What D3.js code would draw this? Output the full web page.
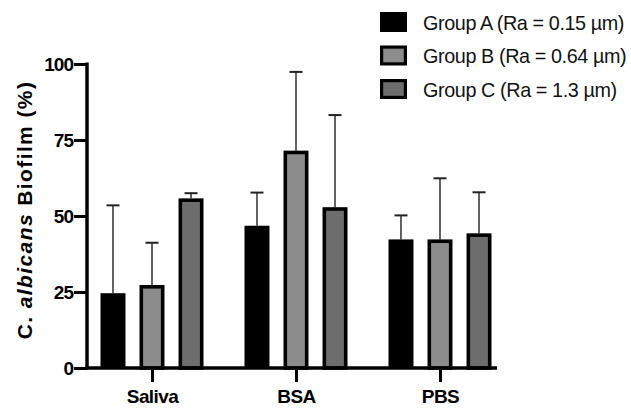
<!DOCTYPE html>
<html>
<head>
<meta charset="utf-8">
<script src="https://cdn.jsdelivr.net/npm/d3@7"></script>
<style>
  body { margin: 0; background: #fff; }
  text { font-family: "Liberation Sans", Arial, sans-serif; }
</style>
</head>
<body>
<div id="chart"></div>
<script>
const categories = ['Saliva', 'BSA', 'PBS'];
const groups = ['Group A (Ra = 0.15 µm)', 'Group B (Ra = 0.64 µm)', 'Group C (Ra = 1.3 µm)'];
const groupFills = ['#000000', '#8c8c8c', '#6d6d6d'];
// mean values per category, one array per group
const meanA = [24.6, 46.8, 42.3];
const meanB = [27.3, 71.5, 42.3];
const meanC = [55.8, 52.9, 44.3];
// upper end of error bars
const errTopA = [53.5, 57.7, 50.2];
const errTopB = [41.2, 97.4, 62.4];
const errTopC = [57.5, 83.2, 57.8];
const yTicks = [0, 25, 50, 75, 100];

const [W, H] = [631, 411];
const axisX0 = 87, axisX1 = 497, axisY0 = 368, axisYTop = 64;

const svg = d3.select('#chart').append('svg')
  .attr('width', W).attr('height', H);

const y = d3.scaleLinear().domain([0, 100]).range([axisY0, axisYTop]);
const x = d3.scalePoint().domain(categories).range([152, 440]);
const xg = d3.scaleBand().domain(groups).range([-51.5, 51.5])
  .paddingInner(0.36).paddingOuter(0);

const means = [meanA, meanB, meanC];
const tops = [errTopA, errTopB, errTopC];
const rows = [];
categories.forEach((c, ci) => {
  groups.forEach((g, gi) => {
    rows.push({ cat: c, grp: g, gi, v: means[gi][ci], e: tops[gi][ci] });
  });
});

// error bars (behind bars)
const eb = svg.append('g');
rows.forEach(d => {
  const cx = x(d.cat) + xg(d.grp) + xg.bandwidth() / 2;
  eb.append('line')
    .attr('x1', cx).attr('x2', cx)
    .attr('y1', y(d.v)).attr('y2', y(d.e))
    .attr('stroke', '#222').attr('stroke-width', 1.4);
  eb.append('line')
    .attr('x1', cx - 6.5).attr('x2', cx + 6.5)
    .attr('y1', y(d.e)).attr('y2', y(d.e))
    .attr('stroke', '#222').attr('stroke-width', 2);
});

// bars
const sw = 3.6;
svg.append('g').selectAll('rect')
  .data(rows).join('rect')
  .attr('x', d => x(d.cat) + xg(d.grp) + (d.gi ? sw / 2 : 0))
  .attr('y', d => y(d.v) + (d.gi ? sw / 2 : 0))
  .attr('width', d => xg.bandwidth() - (d.gi ? sw : 0))
  .attr('height', d => y(0) - y(d.v) - (d.gi ? sw / 2 : 0))
  .attr('fill', d => groupFills[d.gi])
  .attr('stroke', d => d.gi ? '#000' : 'none')
  .attr('stroke-width', sw);

// y axis
const yAxis = svg.append('g')
  .attr('transform', `translate(${axisX0},0)`)
  .call(d3.axisLeft(y).tickValues(yTicks).tickSize(13).tickSizeOuter(0).tickPadding(1));
yAxis.select('.domain').attr('stroke-width', 3.5)
  .attr('d', `M0,${axisYTop - 1.5}V${axisY0 + 1.5}`);
yAxis.selectAll('.tick line').attr('stroke-width', 3);
yAxis.selectAll('.tick text')
  .attr('font-size', 19).attr('font-weight', 'bold').attr('fill', '#000')
  .attr('letter-spacing', -1);

// x axis
const xAxis = svg.append('g')
  .attr('transform', `translate(0,${axisY0})`)
  .call(d3.axisBottom(x).tickSize(14).tickSizeOuter(0).tickPadding(8));
xAxis.select('.domain').attr('stroke-width', 3.5)
  .attr('d', `M${axisX0 - 1.7},0H${axisX1}`);
xAxis.selectAll('.tick line').attr('stroke-width', 3);
xAxis.selectAll('.tick text')
  .attr('font-size', 19).attr('font-weight', 'bold').attr('fill', '#000')
  .attr('letter-spacing', -0.6);

// y label
const yl = svg.append('text')
  .attr('transform', 'translate(32,210) rotate(-90)')
  .attr('text-anchor', 'middle')
  .attr('font-size', 21).attr('font-weight', 'bold')
  .attr('letter-spacing', 1.4);
yl.append('tspan').text('C. ');
yl.append('tspan').attr('font-style', 'italic').text('albicans');
yl.append('tspan').text(' Biofilm (%)');

// legend
const lg = svg.append('g').selectAll('g')
  .data(groups).join('g')
  .attr('transform', (d, i) => `translate(380,${12 + i * 33.5})`);
lg.append('rect')
  .attr('x', (d, i) => i ? 1.6 : 0).attr('y', (d, i) => i ? 1.6 : 0)
  .attr('width', (d, i) => i ? 23.8 : 27).attr('height', (d, i) => i ? 16.8 : 20)
  .attr('fill', (d, i) => groupFills[i])
  .attr('stroke', (d, i) => i ? '#000' : 'none').attr('stroke-width', 3.2);
lg.append('text')
  .attr('x', 43).attr('y', 17.5)
  .attr('font-size', 19.8).attr('fill', '#111')
  .attr('letter-spacing', -0.4)
  .text(d => d);
</script>
</body>
</html>
